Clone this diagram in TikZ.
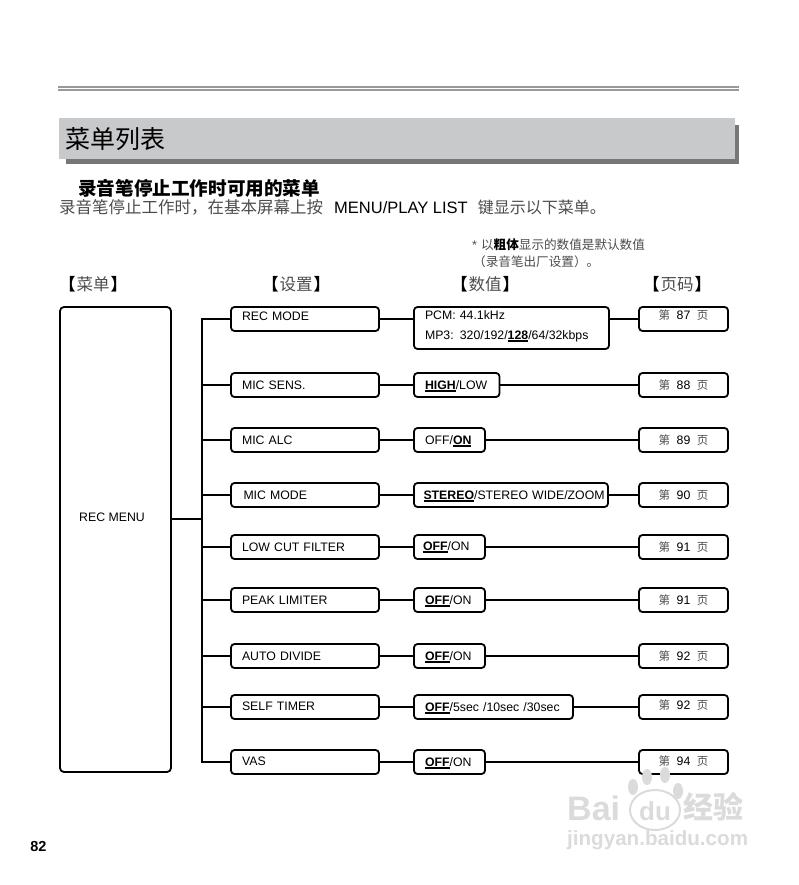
\documentclass[tikz,border=0pt]{standalone}
\usepackage{fontspec}
\setmainfont{Liberation Sans}
\newfontfamily\cjk{Noto Sans CJK SC}
\usetikzlibrary{calc}
\definecolor{ruleline}{gray}{0.60}
\definecolor{bandfill}{HTML}{C8C9CB}
\definecolor{bandshadow}{HTML}{777777}
\definecolor{cjkgray}{gray}{0.30}
\definecolor{markgray}{gray}{0.86}
% bold underlined default value
\newcommand{\defval}[1]{\setbox0=\hbox{\bfseries #1}\rlap{\rule[-2.4pt]{\wd0}{1.5pt}}\box0}
\newcommand{\pagetext}[1]{{\cjk\fontsize{11.5}{11.5}\selectfont\color{cjkgray}第}\hspace{6.5pt}#1\hspace{6.5pt}{\cjk\fontsize{11.5}{11.5}\selectfont\color{cjkgray}页}}
\newcommand{\headtext}[1]{{\bfseries\color{black}【}\hspace{1pt}#1\hspace{1pt}{\bfseries\color{black}】}}
\tikzset{
  boxbase/.style={draw, line width=1.8pt, rounded corners=3.5pt, anchor=west, minimum height=24pt, outer sep=0pt,
    font=\fontsize{12.3}{20}\selectfont, text height=8.5pt, text depth=0pt, inner ysep=0pt},
  setbox/.style={boxbase, minimum width=148pt, inner xsep=11pt, text width=126pt, align=left},
  valbox/.style={boxbase, inner xsep=11pt, text width=#1, align=left},
  pagebox/.style={boxbase, minimum width=89pt, align=center, inner xsep=0pt},
  conn/.style={line width=1.8pt},
  head/.style={font=\cjk\fontsize{16.5}{16.5}\selectfont, text=cjkgray},
  note/.style={font=\cjk\fontsize{12.6}{12.6}\selectfont, anchor=west, inner sep=0pt, text=cjkgray},
  wmark/.style={text=markgray, inner sep=0pt}
}
\begin{document}
\begin{tikzpicture}[x=1pt, y=-1pt, line cap=rect]
  \useasboundingbox (0,0) rectangle (798,885);
  % rules and title band
  \draw[ruleline, line width=2pt] (59,87) -- (738,87);
  \draw[ruleline, line width=2pt] (59,90) -- (738,90);
  \fill[bandshadow] (66,125) rectangle (738.5,164);
  \fill[bandfill] (59,118) rectangle (734.5,159);
  \node[anchor=west, inner sep=0pt, font=\cjk\fontsize{25}{25}\selectfont] (title) at (65,139) {菜单列表};
  \node[anchor=west, inner sep=0pt, font=\cjk\bfseries\fontsize{18.6}{18.6}\selectfont] (sub) at (78,188) {录音笔停止工作时可用的菜单};
  \node[anchor=west, inner sep=0pt, font=\fontsize{16.5}{16.5}\selectfont] (intro) at (59,207)
    {{\cjk\color{cjkgray}录音笔停止工作时，在基本屏幕上按}\hspace{11pt}MENU/PLAY LIST\hspace{10pt}{\cjk\fontsize{16}{16}\selectfont\color{cjkgray}键显示以下菜单。}};
  % note on default values
  \node[note] (note1) at (472,245) {{\rmfamily *}\hspace{4pt}以{\bfseries\color{black}粗体}显示的数值是默认数值};
  \node[note] (note2) at (473,262) {（录音笔出厂设置）。};
  % column heads
  \node[head] (headmenu) at (93,284.5) {\headtext{菜单}};
  \node[head] (headset) at (296,284.5) {\headtext{设置}};
  \node[head] (headval) at (485,284.5) {\headtext{数值}};
  \node[head] (headpage) at (677,284.5) {\headtext{页码}};
  % menu box
  \node[draw, line width=1.8pt, rounded corners=4pt, outer sep=0pt, minimum width=111pt, minimum height=465pt] (menu) at (115.5,539.5) {};
  \node[font=\fontsize{12.3}{14}\selectfont, inner sep=0pt] (menutext) at (112,517) {REC MENU};
  % settings
  \node[setbox] (set1) at (231,319) {\raisebox{3pt}{REC MODE}};
  \node[setbox] (set2) at (231,385) {MIC SENS.};
  \node[setbox] (set3) at (231,440) {MIC ALC};
  \node[setbox] (set4) at (231,495) {\hspace{1.5pt}MIC MODE};
  \node[setbox] (set5) at (231,547) {LOW CUT FILTER};
  \node[setbox] (set6) at (231,600) {PEAK LIMITER};
  \node[setbox] (set7) at (231,656) {AUTO DIVIDE};
  \node[setbox] (set8) at (231,707) {\raisebox{1pt}{SELF TIMER}};
  \node[setbox] (set9) at (231,762) {\raisebox{1pt}{VAS}};
  % values
  \node[valbox=173pt, minimum height=42pt, text height=8pt, text depth=25pt] (val1) at (414,328) {PCM: 44.1kHz\\MP3: 320/192/\defval{128}/64/32kbps};
  \node[valbox=63.5pt] (val2) at (414,385) {\defval{HIGH}/LOW};
  \node[valbox=49pt] (val3) at (414,440) {OFF/\defval{ON}};
  \node[valbox=173pt, inner xsep=9.5pt, text width=175pt] (val4) at (414,495) {\mbox{\defval{STEREO}/STEREO WIDE/ZOOM}};
  \node[valbox=50pt, inner xsep=9pt, text width=53pt] (val5) at (414,547) {\raisebox{1pt}{\defval{OFF}/ON}};
  \node[valbox=49pt] (val6) at (414,600) {\defval{OFF}/ON};
  \node[valbox=49pt] (val7) at (414,656) {\defval{OFF}/ON};
  \node[valbox=137pt] (val8) at (414,707) {\mbox{\defval{OFF}/5sec /10sec /30sec}};
  \node[valbox=49pt] (val9) at (414,762) {\defval{OFF}/ON};
  % page references
  \node[pagebox] (page1) at (639,319) {\raisebox{4pt}{\pagetext{87}}};
  \node[pagebox] (page2) at (639,385) {\pagetext{88}};
  \node[pagebox] (page3) at (639,440) {\pagetext{89}};
  \node[pagebox] (page4) at (639,495) {\pagetext{90}};
  \node[pagebox] (page5) at (639,547) {\pagetext{91}};
  \node[pagebox] (page6) at (639,600) {\pagetext{91}};
  \node[pagebox] (page7) at (639,656) {\pagetext{92}};
  \node[pagebox] (page8) at (639,707) {\raisebox{1.5pt}{\pagetext{92}}};
  \node[pagebox] (page9) at (639,762) {\raisebox{1pt}{\pagetext{94}}};
  % trunk from the menu box
  \coordinate (trunk) at (202,519);
  \draw[conn] (menu.east |- trunk) -- (trunk);
  \draw[conn] (trunk |- set1) -- (trunk |- set9);
  % rows
  \draw[conn] (trunk |- set1) -- (set1) (set1) -- (set1 -| val1.west) (set1 -| val1.east) -- (page1);
  \draw[conn] (trunk |- set2) -- (set2) (set2) -- (val2) (val2) -- (page2);
  \draw[conn] (trunk |- set3) -- (set3) (set3) -- (val3) (val3) -- (page3);
  \draw[conn] (trunk |- set4) -- (set4) (set4) -- (val4) (val4) -- (page4);
  \draw[conn] (trunk |- set5) -- (set5) (set5) -- (val5) (val5) -- (page5);
  \draw[conn] (trunk |- set6) -- (set6) (set6) -- (val6) (val6) -- (page6);
  \draw[conn] (trunk |- set7) -- (set7) (set7) -- (val7) (val7) -- (page7);
  \draw[conn] (trunk |- set8) -- (set8) (set8) -- (val8) (val8) -- (page8);
  \draw[conn] (trunk |- set9) -- (set9) (set9) -- (val9) (val9) -- (page9);
  % page number
  \node[font=\bfseries\fontsize{14.5}{14.5}\selectfont, inner sep=0pt] (pagenum) at (38.5,846.5) {82};
  % watermark
  \fill[markgray] (633,787) circle[x radius=5pt, y radius=8pt] (647,777) circle[x radius=5pt, y radius=8pt]
    (665,775) circle[x radius=5pt, y radius=8pt] (678,791) circle[x radius=5pt, y radius=8pt];
  \draw[markgray, line width=2pt] (655,810) circle[x radius=25pt, y radius=20pt];
  \node[wmark, anchor=west, font=\bfseries\fontsize{34}{34}\selectfont] (markbai) at (567,808) {Bai};
  \node[wmark, font=\bfseries\fontsize{26}{26}\selectfont] (markdu) at (655,811) {du};
  \node[wmark, anchor=west, font=\cjk\bfseries\fontsize{30}{30}\selectfont] (markjy) at (683,807) {经验};
  \node[wmark, anchor=west, font=\bfseries\fontsize{20.6}{20.6}\selectfont] (markurl) at (567,840) {jingyan.baidu.com};
\end{tikzpicture}
\end{document}
